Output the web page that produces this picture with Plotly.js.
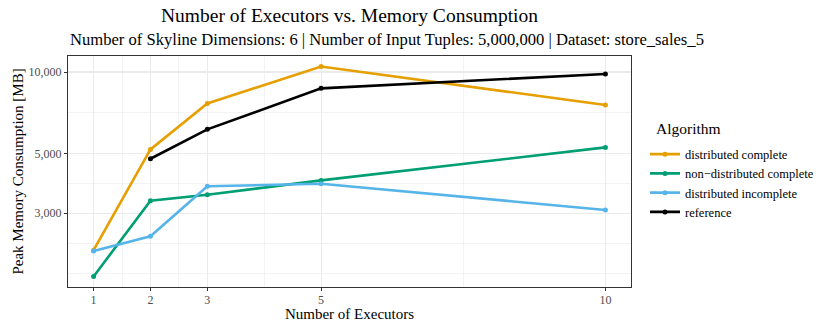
<!DOCTYPE html>
<html>
<head>
<meta charset="utf-8">
<script src="https://cdn.plot.ly/plotly-3.0.1.min.js"></script>
<style>html,body{margin:0;padding:0;background:#fff;}#chart{width:830px;height:332px;}</style>
</head>
<body>
<div id="chart"></div>
<script>
// Data
const executors = [1, 2, 3, 5, 10];
const referenceExecutors = [2, 3, 5, 10];
const distributedComplete = [2190, 5170, 7650, 10480, 7550];
const nonDistributedComplete = [1751, 3340, 3515, 3970, 5260];
const distributedIncomplete = [2175, 2465, 3775, 3860, 3085];
const referenceValues = [4775, 6135, 8700, 9830];
const seriesNames = ["distributed complete", "non\u2212distributed complete", "distributed incomplete", "reference"];
const seriesColors = ["#E69F00", "#009E73", "#56B4E9", "#000000"];
const xTicks = [1, 2, 3, 5, 10];
const yTicks = [3000, 5000, 10000];
const yTickLabels = ["3,000", "5,000", "10,000"];

const font = "Liberation Serif, Times New Roman, serif";
const xs = [executors, executors, executors, referenceExecutors];
const ys = [distributedComplete, nonDistributedComplete, distributedIncomplete, referenceValues];

const traces = seriesNames.map((name, i) => ({
  type: "scatter",
  mode: "lines+markers",
  name: name,
  x: xs[i],
  y: ys[i],
  line: {color: seriesColors[i], width: 2.6},
  marker: {color: seriesColors[i], size: 5},
  hoverinfo: "x+y+name"
}));

const L = 68, W = 564, T = 56, H = 231;
const px2x = (px) => (px - L) / W;
const px2y = (py) => (T + H - py) / H;

const layout = {
  width: 830,
  height: 332,
  paper_bgcolor: "#ffffff",
  plot_bgcolor: "#ffffff",
  margin: {l: L, r: 830 - L - W, t: T, b: 332 - T - H},
  font: {family: font, color: "#000000"},
  title: {
    text: "Number of Executors vs. Memory Consumption",
    font: {family: font, size: 19.5, color: "#000000"},
    x: 0.5, xanchor: "center", xref: "paper",
    y: 1 - 15.5 / 332, yanchor: "middle", yref: "container"
  },
  annotations: [{
    text: "Number of Skyline Dimensions: 6 | Number of Input Tuples: 5,000,000 | Dataset: store_sales_5",
    xref: "paper", yref: "paper",
    x: px2x(68), y: px2y(40),
    xanchor: "left", yanchor: "middle",
    showarrow: false,
    font: {family: font, size: 16.6, color: "#000000"}
  }, {
    text: "Algorithm",
    xref: "paper", yref: "paper",
    x: px2x(655), y: px2y(128),
    xanchor: "left", yanchor: "middle",
    showarrow: false,
    font: {family: font, size: 15.5, color: "#000000"}
  }],
  xaxis: {
    type: "linear",
    range: [0.55, 10.45],
    tickmode: "array",
    tickvals: xTicks,
    ticktext: xTicks.map(String),
    ticks: "outside", ticklen: 3, tickwidth: 1, tickcolor: "#333333",
    ticklabelstandoff: -2,
    tickfont: {family: font, size: 12, color: "#4D4D4D"},
    showgrid: true, gridcolor: "#EBEBEB", gridwidth: 1.1,
    minor: {tickmode: "array", tickvals: [1.5, 2.5, 4, 7.5], showgrid: true, gridcolor: "#EBEBEB", gridwidth: 0.6, ticks: ""},
    showline: true, mirror: true, linecolor: "#333333", linewidth: 1.1,
    zeroline: false,
    title: {text: "Number of Executors", font: {family: font, size: 15, color: "#000000"}, standoff: 2}
  },
  yaxis: {
    type: "log",
    range: [3.2043, 4.0592],
    tickmode: "array",
    tickvals: yTicks,
    ticktext: yTickLabels,
    ticks: "outside", ticklen: 3, tickwidth: 1, tickcolor: "#333333",
    tickfont: {family: font, size: 12, color: "#4D4D4D"},
    showgrid: true, gridcolor: "#EBEBEB", gridwidth: 1.1,
    minor: {tickmode: "array", tickvals: [1800, 2324, 3873, 7071], showgrid: true, gridcolor: "#EBEBEB", gridwidth: 0.6, ticks: ""},
    showline: true, mirror: true, linecolor: "#333333", linewidth: 1.1,
    zeroline: false,
    title: {text: "Peak Memory Consumption [MB]", font: {family: font, size: 15, color: "#000000"}, standoff: 1}
  },
  showlegend: true,
  legend: {
    x: px2x(645), xanchor: "left",
    y: px2y(139.5), yanchor: "top",
    bgcolor: "rgba(0,0,0,0)",
    borderwidth: 0,
    font: {family: font, size: 12.5, color: "#000000"},
    tracegroupgap: 0
  }
};

Plotly.newPlot("chart", traces, layout, {displayModeBar: false, staticPlot: true});
</script>
</body>
</html>
